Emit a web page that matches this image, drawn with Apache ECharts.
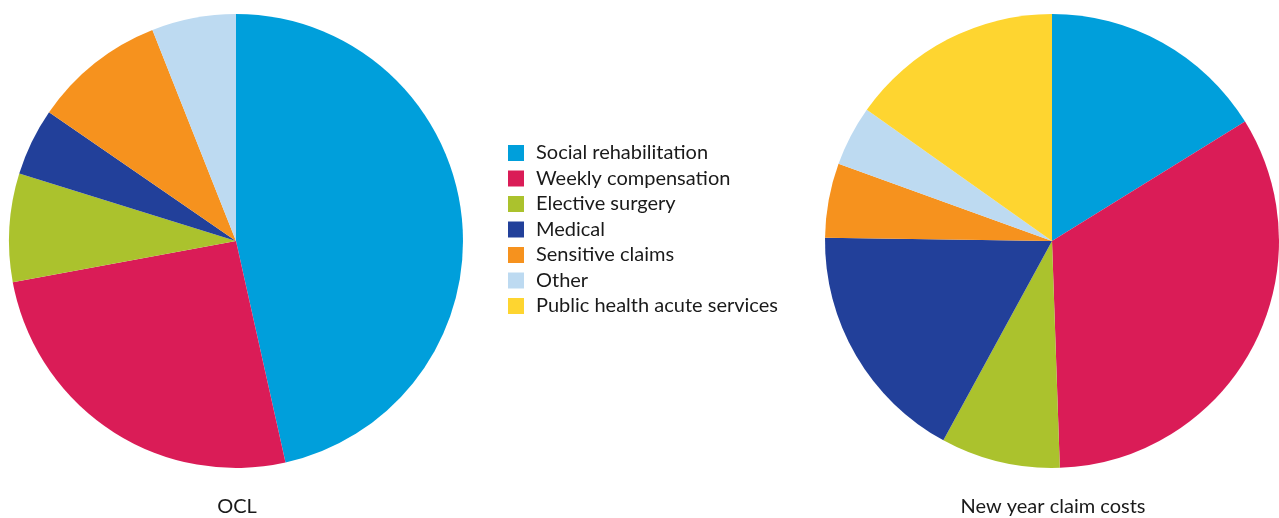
<!DOCTYPE html>
<html><head><meta charset="utf-8">
<script src="https://cdn.jsdelivr.net/npm/echarts@6/dist/echarts.min.js"></script>
<style>html,body{margin:0;padding:0;background:#fff}#c{width:1279px;height:518px}</style>
</head><body><div id="c"></div>
<script>
var categories = ['Social rehabilitation','Weekly compensation','Elective surgery','Medical','Sensitive claims','Other','Public health acute services'];
var colors = ['#009FDB','#DA1C57','#ABC22D','#22409A','#F6921E','#BDDAF1','#FED530'];
var oclValues = [46.5, 25.6, 7.7, 4.8, 9.4, 6.0, 0];
var newYearValues = [16.2, 33.3, 8.5, 17.3, 5.3, 4.3, 15.2];
var pieTitles = ['OCL', 'New year claim costs'];

function mk(vals){
  var out = [];
  for (var i=0;i<categories.length;i++){
    if (vals[i] > 0) out.push({name: categories[i], value: vals[i], itemStyle:{color: colors[i]}});
  }
  return out;
}
var font = 'Lato, "Open Sans", sans-serif';
var chart = echarts.init(document.getElementById('c'), null, {renderer:'canvas'});
chart.setOption({
  animation: false,
  color: colors,
  title: [
    {text: pieTitles[0], left: 232, top: 492, textAlign: 'center', textStyle:{fontFamily: font, fontSize: 20, lineHeight: 20, fontWeight: 'normal', color:'#1a1a1a'}},
    {text: pieTitles[1], left: 1048, top: 492, textAlign: 'center', textStyle:{fontFamily: font, fontSize: 20, lineHeight: 20, fontWeight: 'normal', color:'#1a1a1a'}}
  ],
  legend: {
    orient: 'vertical', left: 503, top: 138,
    itemWidth: 16, itemHeight: 16, itemGap: 5.5,
    icon: 'rect',
    data: categories,
    textStyle: {fontFamily: font, fontSize: 20, lineHeight: 20, color: '#1a1a1a', padding:[0,0,0,7]}
  },
  series: [
    {type:'pie', center:[236,241], radius:[0,227], startAngle:90, clockwise:true,
     label:{show:false}, labelLine:{show:false}, emphasis:{disabled:true},
     itemStyle:{borderWidth:0}, data: mk(oclValues)},
    {type:'pie', center:[1052,241], radius:[0,227], startAngle:90, clockwise:true,
     label:{show:false}, labelLine:{show:false}, emphasis:{disabled:true},
     itemStyle:{borderWidth:0}, data: mk(newYearValues)}
  ]
});
</script></body></html>
